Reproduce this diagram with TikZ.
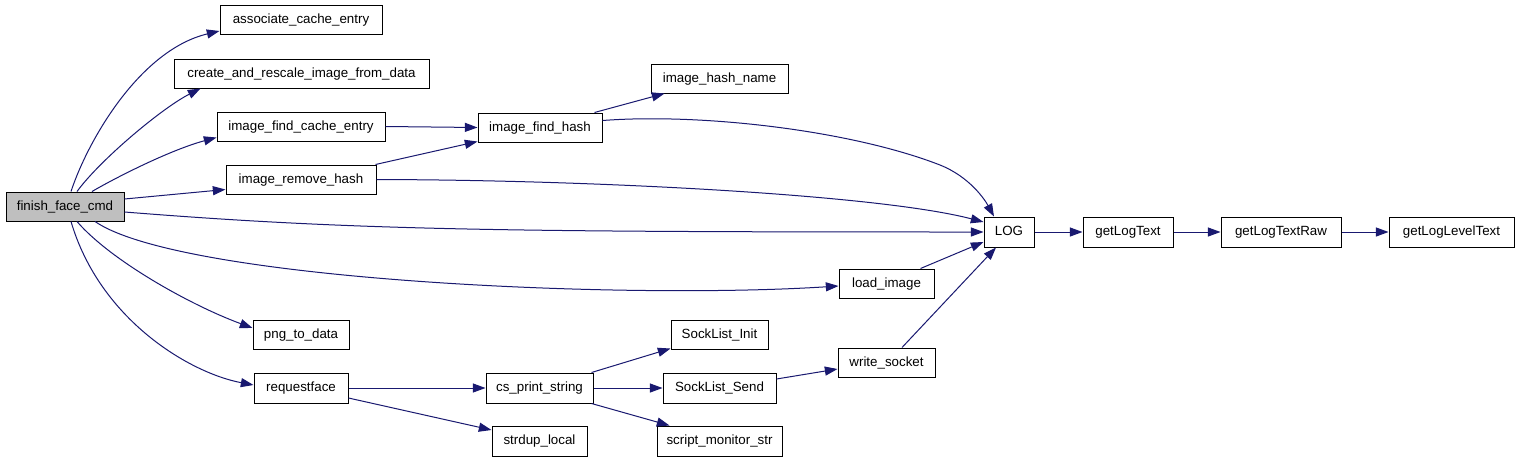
\documentclass[tikz,border=0pt]{standalone}
\usepackage{fontspec}
\setmainfont{Liberation Sans}
\usetikzlibrary{arrows.meta,calc}
\definecolor{edgec}{HTML}{191970}
\definecolor{nodegray}{HTML}{BFBFBF}
\begin{document}
\begin{tikzpicture}[x=0.75pt,y=-0.75pt,
  box/.style 2 args={draw=black, fill=white, line width=0.75pt, inner sep=0pt,
    minimum width=#1*0.75pt, minimum height=#2*0.75pt,
    text height=7.3pt, text depth=2pt, font=\fontsize{10pt}{12pt}\selectfont},
  edge/.style={draw=edgec, line width=0.75pt, -{Triangle[length=9.5pt,width=6.8pt]}}]
\useasboundingbox (0,0) rectangle (1520,461);
\fill[white] (0,0) rectangle (1520,461);

\node[box={118}{29}, fill=nodegray] (ffc) at (65,206.5) {finish\_face\_cmd};
\node[box={162}{29}] (ace) at (301,19.5) {associate\_cache\_entry};
\node[box={255}{29}] (cri) at (301.5,73.5) {create\_and\_rescale\_image\_from\_data};
\node[box={168}{29}] (ifce) at (301,126.5) {image\_find\_cache\_entry};
\node[box={150}{29}] (irh) at (301,179.5) {image\_remove\_hash};
\node[box={96}{29}] (ptd) at (301,334.5) {png\_to\_data};
\node[box={94}{30}] (rf) at (301,388) {requestface};
\node[box={124}{29}] (ifh) at (540,127.5) {image\_find\_hash};
\node[box={137}{29}] (ihn) at (719.5,78.5) {image\_hash\_name};
\node[box={95}{29}] (li) at (886.5,283.5) {load\_image};
\node[box={97}{29}] (sli) at (719.5,334.5) {SockList\_Init};
\node[box={97}{29}] (ws) at (886.5,362.5) {write\_socket};
\node[box={107}{30}] (cps) at (539.5,388) {cs\_print\_string};
\node[box={113}{30}] (sls) at (719.5,388) {SockList\_Send};
\node[box={95}{30}] (sd) at (539.5,441) {strdup\_local};
\node[box={125}{30}] (sms) at (719.5,441) {script\_monitor\_str};
\node[box={50}{30}] (log) at (1009,232) {LOG};
\node[box={90}{30}] (glt) at (1128,232) {getLogText};
\node[box={120}{30}] (gltr) at (1281,232) {getLogTextRaw};
\node[box={125}{30}] (gllt) at (1451.5,232) {getLogLevelText};

% from finish_face_cmd
\draw[edge] ($(ffc.north)+(6,0)$) .. controls (88,140) and (140,50) .. ($(ace.west)+(0,11.5)$);
\draw[edge] ($(ffc.north)+(12,0)$) .. controls (100,160) and (162,108) .. ($(cri.south)+(-101,0)$);
\draw[edge] ($(ffc.north)+(27,0)$) .. controls (115,178) and (170,150) .. ($(ifce.west)+(0,11)$);
\draw[edge] ($(ffc.east)+(0,-7.5)$) -- ($(irh.west)+(0,10)$);
\draw[edge] ($(ffc.east)+(0,5.5)$) .. controls (350,230) and (500,232) .. (log.west);
\draw[edge] ($(ffc.south)+(30,0)$) .. controls (180,280) and (620,300) .. ($(li.west)+(0,2.5)$);
\draw[edge] ($(ffc.south)+(12,0)$) .. controls (110,260) and (190,305) .. ($(ptd.west)+(0,-6.5)$);
\draw[edge] ($(ffc.south)+(6,0)$) .. controls (100,320) and (190,373) .. ($(rf.west)+(0,-3)$);

% second level
\draw[edge] (ifce.east) -- (ifh.west);
\draw[edge] ($(irh.north east)+(-1,0)$) -- ($(ifh.south west)+(0,-1)$);
\draw[edge] (irh.east) .. controls (600,180) and (880,195) .. ($(log.west)+(0,-10)$);
\draw[edge] ($(ifh.north east)+(-8,0)$) -- ($(ihn.south west)+(14,0)$);
\draw[edge] ($(ifh.east)+(0,-7)$) .. controls (700,113) and (850,130) .. (940,165)
  .. controls (970,177) and (985,200) .. ($(log.north)+(-15,0)$);
\draw[edge] ($(li.north east)+(-14,0)$) -- ($(log.west)+(0,10)$);
\draw[edge] ($(ws.north)+(15.5,0)$) -- ($(log.south)+(-13,0)$);

\draw[edge] (log.east) -- (glt.west);
\draw[edge] (glt.east) -- (gltr.west);
\draw[edge] (gltr.east) -- (gllt.west);

\draw[edge] (rf.east) -- (cps.west);
\draw[edge] ($(rf.east)+(0,10)$) -- ($(sd.west)+(0,-11)$);
\draw[edge] ($(cps.north east)+(-2,0)$) -- ($(sli.south west)+(0,-1)$);
\draw[edge] (cps.east) -- (sls.west);
\draw[edge] ($(cps.south east)+(-2,0)$) -- ($(sms.north west)+(13,0)$);
\draw[edge] ($(sls.east)+(0,-9)$) -- ($(ws.west)+(0,6.5)$);
\end{tikzpicture}
\end{document}
